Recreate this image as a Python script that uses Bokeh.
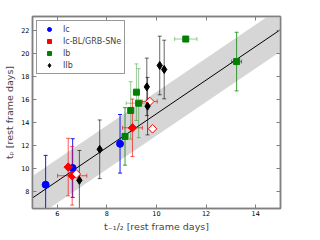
import numpy as np
from bokeh.plotting import figure
from bokeh.models import (ColumnDataSource, Whisker, TeeHead, Legend, LegendItem,
                          LinearAxis, FixedTicker, Range1d, CustomLabelingPolicy)
from bokeh.embed import file_html
from bokeh.resources import INLINE

# ---- data ----
ic_x = [5.53, 6.62, 8.53]
ic_y = [8.57, 10.02, 12.13]
ic_yerr = [2.55, 2.55, 2.55]

blgrb_x = [6.44, 6.60, 9.03]
blgrb_y = [10.10, 9.35, 13.52]
blgrb_yerr = [2.5, 2.55, 2.5]
blgrb_xerr = [0.0, 0.59, 0.40]

grb_open_x = [6.77, 9.73, 9.84]
grb_open_y = [9.50, 15.81, 13.43]
grb_open_xerr = [0.0, 0.30, 0.0]

ib_a_x = [8.73, 13.23]
ib_a_y = [12.77, 19.28]
ib_a_yerr = [2.5, 2.55]
ib_a_xerr = [0.0, 0.20]

ib_b_x = [8.96, 9.28, 9.19, 11.18]
ib_b_y = [15.03, 15.66, 16.62, 21.24]
ib_b_yerr = [2.5, 3.0, 2.46, 0.0]
ib_b_xerr = [0.0, 0.50, 0.0, 0.45]

iib_x = [6.89, 7.71, 9.64, 9.61, 10.13, 10.31]
iib_y = [8.95, 11.65, 15.40, 17.08, 18.94, 18.59]
iib_yerr = [2.6, 2.55, 2.5, 2.5, 2.55, 2.55]

fit_slope = 1.464
fit_intercept = 0.10
fit_band = 1.9
fit_x_span = [5.0, 15.0]

x_ticks = [6, 8, 10, 12, 14]
y_ticks = [8, 10, 12, 14, 16, 18, 20, 22]
x_lim = (5.0, 15.0)
y_lim = (6.5, 23.2)

labels = ["Ic", "Ic-BL/GRB-SNe", "Ib", "IIb"]

# ---- figure ----
FRAME = "#808080"
p = figure(frame_width=248, frame_height=192, output_backend="svg",
           toolbar_location=None, x_range=Range1d(*x_lim), y_range=Range1d(*y_lim),
           min_border_left=32, min_border_right=24, min_border_top=16, min_border_bottom=22)
p.background_fill_color = "white"
p.border_fill_color = "white"
p.outline_line_color = FRAME
p.outline_line_width = 1.5
p.xgrid.visible = False
p.ygrid.visible = False

for ax, ticks, lstand, astand in ((p.xaxis[0], x_ticks, 2, 2), (p.yaxis[0], y_ticks, 3, 3)):
    ax.ticker = FixedTicker(ticks=ticks)
    ax.major_tick_in = 4
    ax.major_tick_out = 0
    ax.minor_tick_line_color = None
    ax.axis_line_color = FRAME
    ax.axis_line_width = 1.5
    ax.major_tick_line_color = FRAME
    ax.major_label_text_font = "DejaVu Sans"
    ax.major_label_text_font_size = "6.5px"
    ax.major_label_text_color = "black"
    ax.major_label_standoff = lstand
    ax.axis_label_text_font = "DejaVu Sans"
    ax.axis_label_text_font_size = "9.5px"
    ax.axis_label_text_font_style = "normal"
    ax.axis_label_standoff = astand

p.xaxis.axis_label = "t\u208b\u2081/\u2082 [rest frame days]"
p.yaxis.axis_label = "t\u209a [rest frame days]"

no_labels = CustomLabelingPolicy(code="""
    const empty = new indices.constructor(indices.size)
    return empty
""")

for loc, ticks in (("above", x_ticks), ("right", y_ticks)):
    ax = LinearAxis(ticker=FixedTicker(ticks=ticks))
    ax.major_tick_in = 4
    ax.major_tick_out = 0
    ax.minor_tick_line_color = None
    ax.axis_line_color = FRAME
    ax.axis_line_width = 1.5
    ax.major_tick_line_color = FRAME
    ax.major_label_policy = no_labels
    ax.major_label_standoff = 0
    p.add_layout(ax, loc)

# ---- fit line and band ----
fx = np.array(fit_x_span)
fy = fit_intercept + fit_slope * fx
p.varea(x=fx, y1=fy - fit_band, y2=fy + fit_band, fill_color="#d6d6d6",
        fill_alpha=1.0, level="underlay")
p.line(fx, fy, line_color="black", line_width=1)


def vbars(x, y, err, color, alpha):
    x = np.asarray(x, float); y = np.asarray(y, float); e = np.asarray(err, float)
    m = e > 0
    src = ColumnDataSource(dict(base=x[m], lower=(y - e)[m], upper=(y + e)[m]))
    w = Whisker(source=src, base="base", lower="lower", upper="upper",
                dimension="height", line_color=color, line_alpha=alpha, line_width=1,
                level="underlay",
                upper_head=TeeHead(size=4, line_color=color, line_alpha=alpha),
                lower_head=TeeHead(size=4, line_color=color, line_alpha=alpha))
    p.add_layout(w)


def hbars(x, y, err, color, alpha):
    x = np.asarray(x, float); y = np.asarray(y, float); e = np.asarray(err, float)
    m = e > 0
    src = ColumnDataSource(dict(base=y[m], lower=(x - e)[m], upper=(x + e)[m]))
    w = Whisker(source=src, base="base", lower="lower", upper="upper",
                dimension="width", line_color=color, line_alpha=alpha, line_width=1,
                level="underlay",
                upper_head=TeeHead(size=4, line_color=color, line_alpha=alpha),
                lower_head=TeeHead(size=4, line_color=color, line_alpha=alpha))
    p.add_layout(w)


vbars(ic_x, ic_y, ic_yerr, "#0000ff", 0.9)
vbars(blgrb_x, blgrb_y, blgrb_yerr, "#ff0000", 0.65)
hbars(blgrb_x, blgrb_y, blgrb_xerr, "#ff0000", 0.65)
hbars(grb_open_x, grb_open_y, grb_open_xerr, "#ff0000", 0.65)
vbars(ib_a_x, ib_a_y, ib_a_yerr, "#008000", 0.75)
hbars(ib_a_x, ib_a_y, ib_a_xerr, "#008000", 0.75)
vbars(ib_b_x, ib_b_y, ib_b_yerr, "#008000", 0.4)
hbars(ib_b_x, ib_b_y, ib_b_xerr, "#008000", 0.4)
vbars(iib_x, iib_y, iib_yerr, "#000000", 0.6)

r_ic = p.scatter(ic_x, ic_y, marker="circle", size=7, fill_color="#0000ff",
                 line_color="#0000ff")
r_bl = p.scatter(blgrb_x, blgrb_y, marker="square", angle=np.pi / 4, size=6,
                 fill_color="#ff0000", line_color="#ff0000")
p.scatter(grb_open_x, grb_open_y, marker="square", angle=np.pi / 4, size=6,
          fill_color="white", line_color="#ff0000", line_width=1)
r_ib = p.scatter(ib_a_x + ib_b_x, ib_a_y + ib_b_y, marker="square", size=6,
                 fill_color="#008000", line_color="#008000")
r_iib = p.scatter(iib_x, iib_y, marker="diamond", size=8, fill_color="black",
                  line_color="black")

legend = Legend(items=[LegendItem(label=labels[0], renderers=[r_ic]),
                       LegendItem(label=labels[1], renderers=[r_bl]),
                       LegendItem(label=labels[2], renderers=[r_ib]),
                       LegendItem(label=labels[3], renderers=[r_iib])],
                location="top_left")
legend.label_text_font = "DejaVu Sans"
legend.label_text_font_size = "8px"
legend.glyph_width = 18
legend.glyph_height = 10
legend.label_height = 10
legend.label_standoff = 5
legend.spacing = 2
legend.padding = 3
legend.margin = 4
legend.border_line_color = "#333333"
legend.border_line_width = 1
legend.background_fill_color = "white"
legend.background_fill_alpha = 1
p.add_layout(legend)

open("out.html", "w").write(file_html(p, INLINE))
